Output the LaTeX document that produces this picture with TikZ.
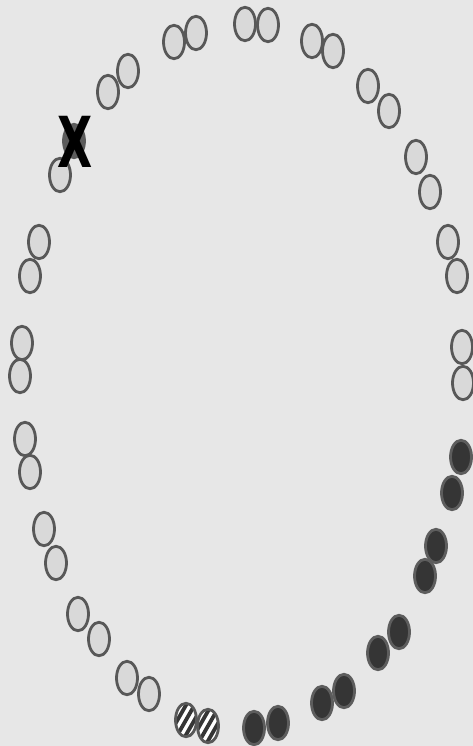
\documentclass[tikz,border=0pt]{standalone}
\usepackage{xcolor}
\usepackage{graphicx}
\usepackage{fontspec}
\usepackage{tikz}
\usetikzlibrary{shapes.geometric}

\newfontfamily\crossfont{DejaVu Sans}

\definecolor{bgback}{HTML}{E7E7E7}
\definecolor{seatlight}{HTML}{D9D9D9}
\definecolor{seatedge}{HTML}{585858}
\definecolor{seatdark}{HTML}{353535}
\definecolor{seatgone}{HTML}{5C5C5C}

\tikzset{
    seat/.style={ellipse, draw=seatedge, line width=2.8pt, minimum width=21pt, minimum height=33.5pt, inner sep=0pt},
    liteseat/.style={seat, fill=seatlight},
    darkseat/.style={seat, fill=seatdark, draw=seatdark!80!white},
    stripeseat/.style={seat, fill=white,
        path picture={\foreach \k in {-4,...,4}
            \draw[line width=3.8pt, seatdark] ([xshift=\k*8.5pt]path picture bounding box.center) ++(-10pt,-17.5pt) -- ++(20pt,35pt);}},
    goneseat/.style={seat, fill=seatgone, draw=seatgone}
}

\begin{document}
\begin{tikzpicture}[x=1pt, y=-1pt]
    % Background
    \fill[bgback] (0,0) rectangle (473,746);
    \useasboundingbox (0,0) rectangle (473,746);

    % Empty seats round the ring
    \foreach \x/\y [count=\i] in {245/24, 268/25, 312/41, 333/51, 368/86, 389/111,
        416/157, 430/192, 448/242, 457/276, 462/347, 463/383,
        149/694, 127/678, 99/639, 78/614, 56/563, 44/529, 30/472, 25/439,
        20/376, 22/343, 30/276, 39/242, 108/92, 128/71, 174/42, 196/33}
        \node[liteseat] (l\i) at (\x,\y) {};

    % Crossed-out seat
    \node[goneseat] (gone) at (74,141) {};
    \node[liteseat] (below) at (60,175) {};
    \node[font=\fontsize{38}{38}\selectfont\crossfont\bfseries, inner sep=0pt] (cross) at (75,142) {\scalebox{1.2}[1.85]{X}};

    % Taken seats
    \foreach \x/\y [count=\i] in {461/457, 452/493, 436/546, 425/576, 399/632,
        378/653, 344/691, 322/703, 278/723, 254/728}
        \node[darkseat] (d\i) at (\x,\y) {};

    % Striped seats
    \node[stripeseat] (s1) at (186,720) {};
    \node[stripeseat] (s2) at (208,726) {};
\end{tikzpicture}
\end{document}
